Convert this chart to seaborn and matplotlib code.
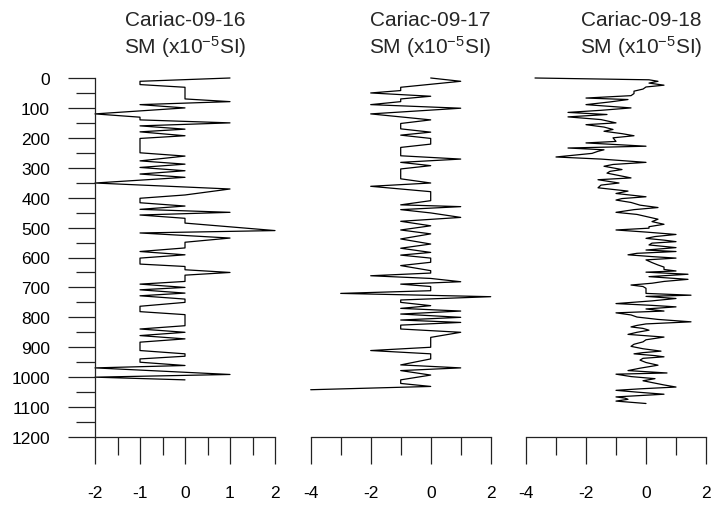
import numpy as np
import pandas as pd
import seaborn as sns
import matplotlib.pyplot as plt
from matplotlib.ticker import MultipleLocator

# Cariac-09-16 (depth, SM)
depth_16 = [0, 11, 22, 31, 70, 79, 89, 100, 120, 131, 140, 150, 160, 171, 180, 193, 202, 250,
            261, 277, 288, 299, 310, 321, 332, 351, 371, 391, 402, 417, 428, 439, 449, 458,
            469, 485, 510, 518, 535, 549, 568, 580, 591, 602, 622, 630, 641, 650, 659, 680,
            689, 700, 708, 719, 728, 739, 750, 763, 781, 791, 828, 839, 850, 861, 872, 883,
            911, 922, 930, 939, 950, 961, 969, 991, 1000, 1009]
sm_16 = [1, -1, -1, 0, 0, 1, -1, 0, -2, -1, -1, 1, -1, 0, -1, 0, -1, -1,
         0, -1, 0, -1, 0, -1, 0, -2, 1, 0, -1, -1, 0, -1, 1, -1,
         0, 0, 2, -1, 1, 0, 0, -1, 0, -1, -1, 0, 0, 1, 0, 0,
         -1, 0, -1, 0, -1, 0, 0, -1, -1, 0, 0, -1, 0, -1, 0, -1,
         -1, 0, 0, -1, -1, 0, -2, 1, -2, 0]

# Cariac-09-17
depth_17 = [0, 11, 31, 42, 50, 61, 70, 79, 89, 101, 120, 140, 152, 170, 181, 191, 202, 221,
            232, 260, 271, 282, 293, 304, 337, 351, 362, 380, 410, 424, 430, 440, 451, 466,
            479, 494, 508, 521, 538, 555, 569, 583, 592, 602, 616, 627, 644, 652, 661, 670,
            681, 689, 697, 711, 720, 731, 742, 750, 761, 770, 779, 789, 800, 809, 817, 826,
            839, 850, 867, 900, 911, 922, 939, 959, 969, 978, 993, 1009, 1021, 1031, 1042]
sm_17 = [0, 1, -1, -1, -2, 0, -1, -1, -2, 1, -2, 0, -1, -1, 0, -1, 0, 0,
         -1, -1, 1, -1, 0, -1, -1, 0, -2, 0, 0, -1, 1, -1, 0, 1,
         -1, 0, -1, 0, -1, 0, -1, 0, -1, 0, 0, -1, 0, 0, -2, 0,
         1, -1, 0, 0, -3, 2, -1, -1, 0, -1, 1, -1, 1, -1, 1, -1,
         -1, 1, 0, 0, -2, 0, 0, -1, 1, -1, 0, -1, -1, 0, -4]

# Cariac-09-18
depth_18 = [0, 6, 11, 17, 24, 30, 37, 44, 52, 59, 67, 72, 80, 89, 100, 108, 115, 122, 130,
            139, 150, 156, 164, 172, 178, 186, 193, 200, 212, 217, 228, 234, 240, 245, 252,
            264, 271, 282, 289, 295, 306, 312, 318, 326, 334, 340, 351, 358, 367, 378, 386,
            397, 403, 408, 416, 425, 433, 440, 449, 456, 463, 472, 480, 489, 497, 502, 508,
            515, 523, 530, 536, 542, 547, 552, 558, 567, 575, 580, 586, 591, 597, 602, 608,
            617, 625, 632, 640, 645, 649, 656, 664, 673, 680, 686, 692, 697, 703, 711, 720,
            726, 730, 737, 745, 754, 760, 765, 772, 779, 785, 792, 799, 807, 815, 822, 827,
            832, 837, 843, 850, 857, 866, 875, 882, 890, 897, 905, 913, 918, 922, 928, 932,
            937, 943, 951, 960, 970, 978, 986, 990, 998, 1005, 1012, 1020, 1026, 1033, 1039,
            1044, 1050, 1057, 1066, 1070, 1074, 1080, 1088]
sm_18 = [-3.7, 0.1, 0.4, 0.1, 0.6, 0.0, -0.1, -0.4, -0.4, -0.5, -2.0, -0.6, -1.2, -2.0, -0.5,
         -1.5, -2.6, -1.3, -2.6, -1.5, -1.0, -2.0, -1.4, -1.1, -1.4, -0.8, -0.4, -1.1, -1.0,
         -2.0, 0.0, -2.6, -1.4, -1.6, -1.8, -3.0, -1.5, 0.0, -1.1, -1.4, -0.8, -1.2, -1.3,
         -0.9, -0.5, -1.6, -0.9, -1.5, -1.6, -0.6, -1.0, 0.0, -0.8, -1.0, -0.5, -0.2, 0.4,
         -0.4, -1.0, -0.3, 0.0, 0.4, 0.2, 0.6, 0.1, 0.1, -1.0, 0.0, 1.0, 0.3, 0.0, 0.6, 1.0,
         0.2, 0.1, 1.0, 0.0, 1.0, -0.3, -0.6, 0.2, 1.0, 0.0, 0.2, 0.4, 0.6, 0.6, 1.0, 0.0,
         1.4, 0.1, 1.4, 0.6, 0.2, -0.5, -0.1, 0.0, 0.0, 0.0, 1.5, 0.0, 1.0, 0.2, -1.0, 0.2,
         1.0, 0.0, 0.6, -1.0, -0.5, -0.3, 0.4, 1.5, 0.0, -0.3, -0.5, -0.1, 0.1, -0.3, -0.6,
         0.6, 0.0, -0.1, -0.4, -0.5, -0.1, 0.5, -0.1, -0.4, 0.3, 0.6, -0.1, -0.2, 0.0, 0.4,
         -0.2, -0.6, 0.7, -1.0, -0.5, 0.3, -0.1, 0.3, 0.6, 1.0, -0.2, -1.0, -0.3, 0.6, -1.0,
         -0.7, -0.6, -1.0, 0.0]

cores = ['Cariac-09-16', 'Cariac-09-17', 'Cariac-09-18']
depth_ticks = list(range(0, 1300, 100))

sns.set_style('white')
plt.rcParams['font.family'] = ['Liberation Sans', 'DejaVu Sans']
plt.rcParams['mathtext.default'] = 'regular'
plt.rcParams['axes.unicode_minus'] = False

W, H = 715, 510
fig = plt.figure(figsize=(W / 100, H / 100), dpi=100)

# panel layout in pixels: (left px, xlim, major step, minor step, title centre px)
panels = [
    (95, (-2, 2), 1, 0.5, 185),
    (310.7, (-4, 2), 2, 1, 430),
    (526, (-4, 2), 2, 1, 641),
]
data = [(sm_16, depth_16), (sm_17, depth_17), (sm_18, depth_18)]
top_px, bot_px, wid_px = 79, 438, 180

for i, ((lx, xl, maj, mnr, tx), (x, y)) in enumerate(zip(panels, data)):
    ax = fig.add_axes([lx / W, (H - bot_px) / H, wid_px / W, (bot_px - top_px) / H])
    df = pd.DataFrame({'sm': x, 'depth': y})
    sns.lineplot(data=df, x='sm', y='depth', sort=False, estimator=None,
                 color='black', lw=0.9, ax=ax)
    for ln in ax.lines:
        ln.set_clip_on(False)
    ax.set_xlim(*xl)
    ax.set_ylim(1200, 0)
    ax.xaxis.set_major_locator(MultipleLocator(maj))
    ax.xaxis.set_minor_locator(MultipleLocator(mnr))
    ax.set_xlabel('')
    ax.set_ylabel('')
    for s in ['top', 'right']:
        ax.spines[s].set_visible(False)
    ax.spines['bottom'].set_color('#222222')
    ax.spines['bottom'].set_linewidth(0.9)
    if i == 0:
        ax.set_yticks(depth_ticks)
        ax.yaxis.set_minor_locator(MultipleLocator(50))
        ax.spines['left'].set_color('#222222')
        ax.spines['left'].set_linewidth(0.9)
        ax.yaxis.set_tick_params(which='major', direction='out', length=19.4, width=0.9,
                                 pad=13, labelsize=12.5, labelcolor='black',
                                 color='#222222', left=True)
        ax.yaxis.set_tick_params(which='minor', direction='out', length=13.7, width=0.9,
                                 color='#222222', left=True)
    else:
        ax.set_yticks([])
        ax.spines['left'].set_visible(False)
    ax.xaxis.set_tick_params(which='major', direction='out', length=19.4, width=0.9,
                             pad=15, labelsize=12.5, labelcolor='black',
                             color='#222222', bottom=True)
    ax.xaxis.set_tick_params(which='minor', direction='out', length=13, width=0.9,
                             color='#222222', bottom=True)
    fig.text(tx / W, 1 - 20 / H, cores[i], ha='center', va='center', fontsize=15)
    fig.text(tx / W, 1 - 47 / H, 'SM (x10$^{-5}$SI)', ha='center', va='center',
             fontsize=15)

fig.savefig('out.png', dpi=100)
